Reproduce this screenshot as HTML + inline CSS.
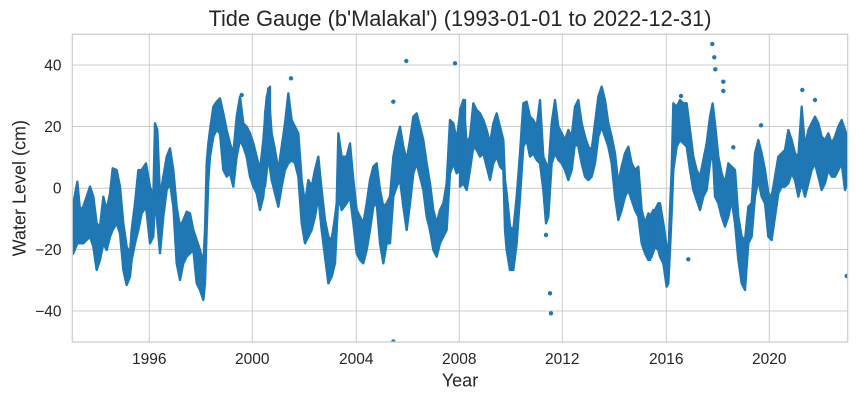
<!DOCTYPE html>
<html><head><meta charset="utf-8"><style>
html,body{margin:0;padding:0;background:#fff;}
svg{display:block;}
text{font-family:"Liberation Sans",Arial,sans-serif;fill:#262626;}
</style></head><body>
<svg width="856" height="400" viewBox="0 0 856 400" xmlns="http://www.w3.org/2000/svg">
<defs><clipPath id="pa"><rect x="72.3" y="34.3" width="775.4" height="307.7"/></clipPath></defs>
<rect x="0" y="0" width="856" height="400" fill="#fff"/>
<!-- grid -->
<g stroke="#cccccc" stroke-width="1">
<line x1="149.3" y1="34.3" x2="149.3" y2="342"/>
<line x1="252.3" y1="34.3" x2="252.3" y2="342"/>
<line x1="356.3" y1="34.3" x2="356.3" y2="342"/>
<line x1="459.3" y1="34.3" x2="459.3" y2="342"/>
<line x1="562.3" y1="34.3" x2="562.3" y2="342"/>
<line x1="666.3" y1="34.3" x2="666.3" y2="342"/>
<line x1="769.3" y1="34.3" x2="769.3" y2="342"/>
<line x1="72.3" y1="65" x2="847.7" y2="65"/>
<line x1="72.3" y1="126.5" x2="847.7" y2="126.5"/>
<line x1="72.3" y1="188.2" x2="847.7" y2="188.2"/>
<line x1="72.3" y1="249.5" x2="847.7" y2="249.5"/>
<line x1="72.3" y1="311" x2="847.7" y2="311"/>
</g>
<g clip-path="url(#pa)">
<!-- data band -->
<g fill="#1f77b4" stroke="#1f77b4" stroke-width="7" stroke-linejoin="round">
<polygon transform="translate(70,30) scale(0.33333)" points="10,520 22,455 30,540 40,530 60,470 70,500 80,580 90,590 100,500 110,540 120,490 128,415 140,420 150,470 160,580 170,650 180,670 185,600 195,520 205,420 215,420 228,400 240,470 250,500 255,280 262,300 270,500 280,440 290,380 300,355 310,420 320,530 330,590 340,570 350,545 360,550 370,600 380,630 390,660 400,700 405,600 410,400 415,340 420,300 430,230 440,215 450,205 460,250 470,300 480,340 490,370 500,260 510,200 520,280 530,290 540,310 550,340 560,380 570,420 580,330 590,200 600,170 600,370 590,380 580,500 570,540 560,490 550,470 540,440 530,380 520,350 510,330 500,380 490,470 480,430 470,440 460,420 450,310 440,300 430,320 420,380 415,450 410,600 405,760 400,810 390,780 380,760 370,660 360,670 350,680 340,700 330,750 320,700 310,530 300,460 290,480 280,560 270,670 262,580 255,500 250,620 240,640 228,530 215,550 205,600 195,640 185,690 180,740 170,765 160,720 150,610 140,580 128,600 120,620 110,660 100,640 90,690 80,720 70,650 60,620 40,640 30,640 22,640 10,670 5,675 5,580"/>
<polygon transform="translate(265,30) scale(0.33333)" points="0,250 10,175 20,310 30,360 40,420 50,350 60,280 70,190 80,270 90,290 100,310 110,450 120,520 130,450 140,470 150,420 160,380 170,480 180,570 190,620 200,630 210,560 215,520 220,310 230,380 245,380 255,340 265,450 275,540 285,560 295,580 305,520 315,450 325,410 335,400 345,480 355,530 365,520 375,500 385,380 395,330 405,290 415,350 425,390 435,330 445,260 455,250 465,290 475,330 485,400 495,460 505,540 515,580 525,540 535,520 545,460 555,270 565,280 575,330 585,250 595,210 600,210 600,380 595,380 585,420 575,430 565,400 555,430 545,600 535,620 525,640 515,680 505,660 495,600 485,560 475,480 465,440 455,400 445,430 435,520 425,600 415,530 405,450 395,470 385,500 375,640 365,640 355,700 345,640 335,520 325,530 315,600 305,660 295,700 285,690 275,670 265,580 255,500 245,520 230,540 220,500 215,600 210,700 200,740 190,760 180,680 170,600 160,500 150,560 140,600 130,620 120,640 110,580 100,440 90,400 80,390 70,400 60,420 50,470 40,530 30,490 20,450 10,380 0,470"/>
<polygon transform="translate(460,30) scale(0.33333)" points="0,240 10,210 20,340 30,320 40,220 50,240 60,250 70,270 80,300 90,340 100,280 110,250 120,290 130,330 135,450 140,490 150,590 160,600 170,500 180,370 190,220 200,215 210,260 220,270 230,290 240,210 250,380 258,400 265,420 275,280 285,210 295,290 305,310 315,330 325,300 335,320 345,230 355,210 365,280 375,320 385,350 395,360 405,280 415,200 425,170 435,210 445,280 455,320 465,370 475,460 485,410 495,370 505,350 515,400 525,420 535,410 545,540 555,580 565,550 575,560 585,540 595,520 600,520 600,660 595,660 585,650 575,680 565,690 555,670 545,640 535,560 525,540 515,510 505,480 495,500 485,540 475,570 465,500 455,400 445,350 435,320 425,290 415,320 405,400 395,440 385,450 375,440 365,400 355,350 345,340 335,420 325,450 315,420 305,400 295,390 285,370 275,400 265,560 258,580 250,480 240,400 230,390 220,370 210,380 200,330 190,350 180,500 170,640 160,720 150,720 140,660 135,600 130,420 120,410 110,380 100,400 90,450 80,410 70,370 60,380 50,360 40,350 30,420 20,480 10,460 0,470"/>
<polygon transform="translate(650,30) scale(0.33333)" points="0,560 10,540 20,560 30,520 40,580 50,650 55,680 60,540 65,420 70,220 80,230 90,210 100,220 110,220 120,300 130,380 140,420 150,440 160,390 170,340 180,260 188,220 195,280 205,380 215,430 225,460 235,400 245,410 255,420 265,560 275,620 285,630 295,530 305,520 315,370 325,330 335,370 345,420 355,490 365,500 375,440 385,380 395,370 405,360 415,300 425,330 435,370 445,380 455,230 465,350 475,300 485,280 495,260 505,280 515,320 525,330 535,310 545,340 555,320 565,290 575,270 585,300 592,320 592,460 585,480 575,400 565,420 555,440 545,440 535,420 525,460 515,480 505,440 495,400 485,420 475,460 465,500 455,460 445,500 435,450 425,430 415,460 405,470 395,470 385,490 375,560 365,630 355,620 345,520 335,500 325,450 315,500 305,620 295,640 285,780 275,760 265,690 255,580 245,510 235,560 225,590 215,560 205,520 195,500 188,360 180,400 170,480 160,500 150,540 140,510 130,480 120,420 110,350 100,340 90,330 80,350 70,420 65,550 60,660 55,760 50,770 40,700 30,680 20,640 10,660 0,690"/>
</g>
<!-- outliers -->
<g fill="#1f77b4">
<circle cx="406.3" cy="61" r="2.2"/>
<circle cx="455" cy="63.3" r="2.2"/>
<circle cx="393.3" cy="101.7" r="2.2"/>
<circle cx="393.3" cy="341.5" r="2.2"/>
<circle cx="291" cy="78.3" r="2.2"/>
<circle cx="546" cy="235" r="2.2"/>
<circle cx="550" cy="293.3" r="2.2"/>
<circle cx="551" cy="313.3" r="2.2"/>
<circle cx="712.3" cy="44" r="2.2"/>
<circle cx="714.3" cy="57.3" r="2.2"/>
<circle cx="715.3" cy="69.3" r="2.2"/>
<circle cx="723.3" cy="81.7" r="2.2"/>
<circle cx="723.3" cy="91" r="2.2"/>
<circle cx="733.3" cy="147.3" r="2.2"/>
<circle cx="688.3" cy="259.3" r="2.2"/>
<circle cx="846.7" cy="276" r="2.2"/>
<circle cx="802.3" cy="90" r="2.2"/>
<circle cx="815" cy="100" r="2.2"/>
<circle cx="761" cy="125.3" r="2.2"/>
<circle cx="681" cy="96" r="2.2"/>
<circle cx="241.7" cy="95" r="2.2"/>
</g>
</g>
<!-- spines -->
<rect x="72.3" y="34.3" width="775.4" height="307.7" fill="none" stroke="#cccccc" stroke-width="1.25"/>
<!-- tick labels -->
<g font-size="15.5" text-anchor="end">
<text x="61.5" y="70.5">40</text>
<text x="61.5" y="132">20</text>
<text x="61.5" y="193.7">0</text>
<text x="61.5" y="255">−20</text>
<text x="61.5" y="316.5">−40</text>
</g>
<g font-size="15.5" text-anchor="middle">
<text x="149.3" y="364">1996</text>
<text x="252.3" y="364">2000</text>
<text x="356.3" y="364">2004</text>
<text x="459.3" y="364">2008</text>
<text x="562.3" y="364">2012</text>
<text x="666.3" y="364">2016</text>
<text x="769.3" y="364">2020</text>
</g>
<text x="460" y="386.7" font-size="18" text-anchor="middle">Year</text>
<text transform="translate(25.5,188.2) rotate(-90)" font-size="18" text-anchor="middle">Water Level (cm)</text>
<text x="460" y="26" font-size="21.8" text-anchor="middle">Tide Gauge (b'Malakal') (1993-01-01 to 2022-12-31)</text>
</svg>
</body></html>
